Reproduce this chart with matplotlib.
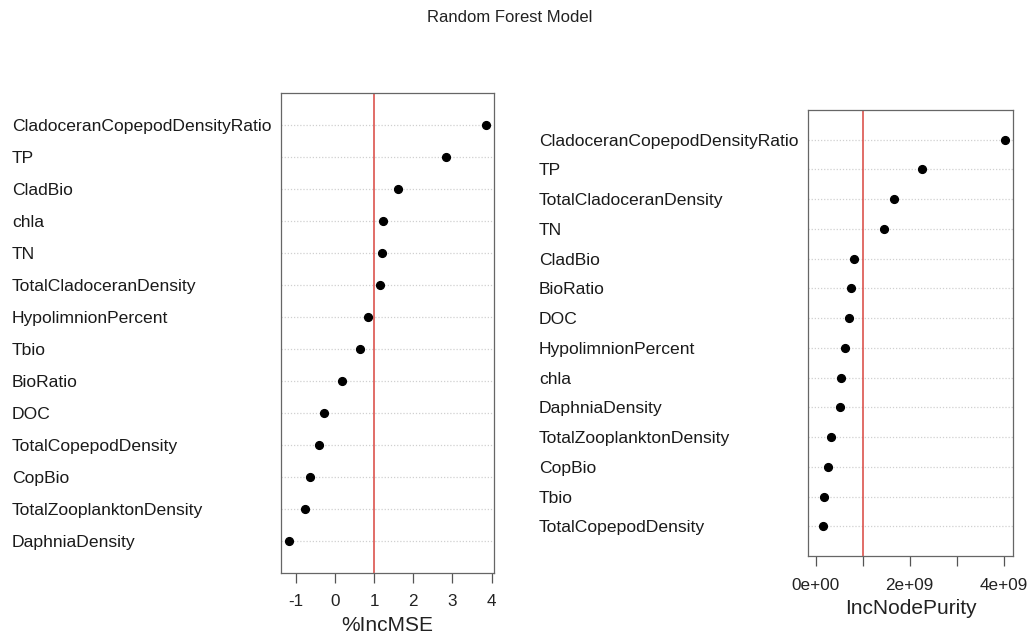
import matplotlib
matplotlib.use("Agg")
import matplotlib.pyplot as plt
import matplotlib.transforms as mtransforms

plt.rcParams['font.family'] = ['Liberation Sans', 'DejaVu Sans']

# variable importance, listed top to bottom as drawn
mse_vars = ["CladoceranCopepodDensityRatio", "TP", "CladBio", "chla", "TN",
            "TotalCladoceranDensity", "HypolimnionPercent", "Tbio", "BioRatio",
            "DOC", "TotalCopepodDensity", "CopBio", "TotalZooplanktonDensity",
            "DaphniaDensity"]
mse_vals = [3.85, 2.83, 1.60, 1.23, 1.21, 1.15, 0.84, 0.63, 0.17,
            -0.27, -0.42, -0.63, -0.77, -1.18]

purity_vars = ["CladoceranCopepodDensityRatio", "TP", "TotalCladoceranDensity",
               "TN", "CladBio", "BioRatio", "DOC", "HypolimnionPercent", "chla",
               "DaphniaDensity", "TotalZooplanktonDensity", "CopBio", "Tbio",
               "TotalCopepodDensity"]
purity_vals = [4.04e9, 2.27e9, 1.67e9, 1.45e9, 0.815e9, 0.74e9, 0.71e9,
               0.62e9, 0.53e9, 0.52e9, 0.33e9, 0.25e9, 0.18e9, 0.155e9]

mse_ticks = [-1, 0, 1, 2, 3, 4]
mse_ticklabels = ["-1", "0", "1", "2", "3", "4"]
purity_ticks = [0, 1e9, 2e9, 3e9, 4e9]
purity_ticklabels = ["0e+00", "", "2e+09", "", "4e+09"]

W, H = 1035, 636
fig = plt.figure(figsize=(W / 100, H / 100), dpi=100)


def px_axes(x0, y0, x1, y1):
    return fig.add_axes([x0 / W, 1 - y1 / H, (x1 - x0) / W, (y1 - y0) / H])


def dotchart(ax, names, vals, xlim, ticks, ticklabels, xlabel, vline, label_x):
    n = len(vals)
    ys = [n - i for i in range(n)]
    for y in ys:
        ax.axhline(y, color="#d0d0d0", lw=0.9, ls=(0, (1, 1.5)), zorder=0)
    ax.axvline(vline, color="#d9453f", lw=1.1, zorder=1)
    ax.plot(vals, ys, "o", color="black", ms=5.6, zorder=3)
    ax.set_xlim(*xlim)
    ax.set_ylim(0.0, 15.0)
    ax.set_yticks([])
    ax.set_xticks(ticks)
    ax.set_xticklabels(ticklabels)
    ax.tick_params(axis="x", direction="out", length=7.5, width=0.9,
                   color="#555555", labelsize=12.3, labelcolor="#222222", pad=8)
    for s in ax.spines.values():
        s.set_color("#666666")
        s.set_linewidth(0.9)
    ax.spines["bottom"].set_visible(False)
    ax.plot([0, 1], [0, 0], transform=ax.transAxes, color="#666666", lw=0.9,
            clip_on=False)
    ax.set_xlabel(xlabel, fontsize=15, color="#222222", labelpad=5)
    trans = mtransforms.blended_transform_factory(fig.transFigure, ax.transData)
    for name, y in zip(names, ys):
        ax.text(label_x / W, y, name, transform=trans, ha="left",
                va="center_baseline", fontsize=12.6, color="#1a1a1a")


ax1 = px_axes(281, 93, 493.5, 572.5)
dotchart(ax1, mse_vars, mse_vals, (-1.381, 4.051), mse_ticks, mse_ticklabels,
         "%IncMSE", 1.0, 12)

ax2 = px_axes(808.3, 110, 1013, 556)
dotchart(ax2, purity_vars, purity_vals, (-0.1616e9, 4.2016e9), purity_ticks,
         purity_ticklabels, "IncNodePurity", 1e9, 539)

fig.text(510 / W, 1 - 17 / H, "Random Forest Model", ha="center", va="center",
         fontsize=12, color="#222222")

fig.savefig("out.png", dpi=100, facecolor="white")
